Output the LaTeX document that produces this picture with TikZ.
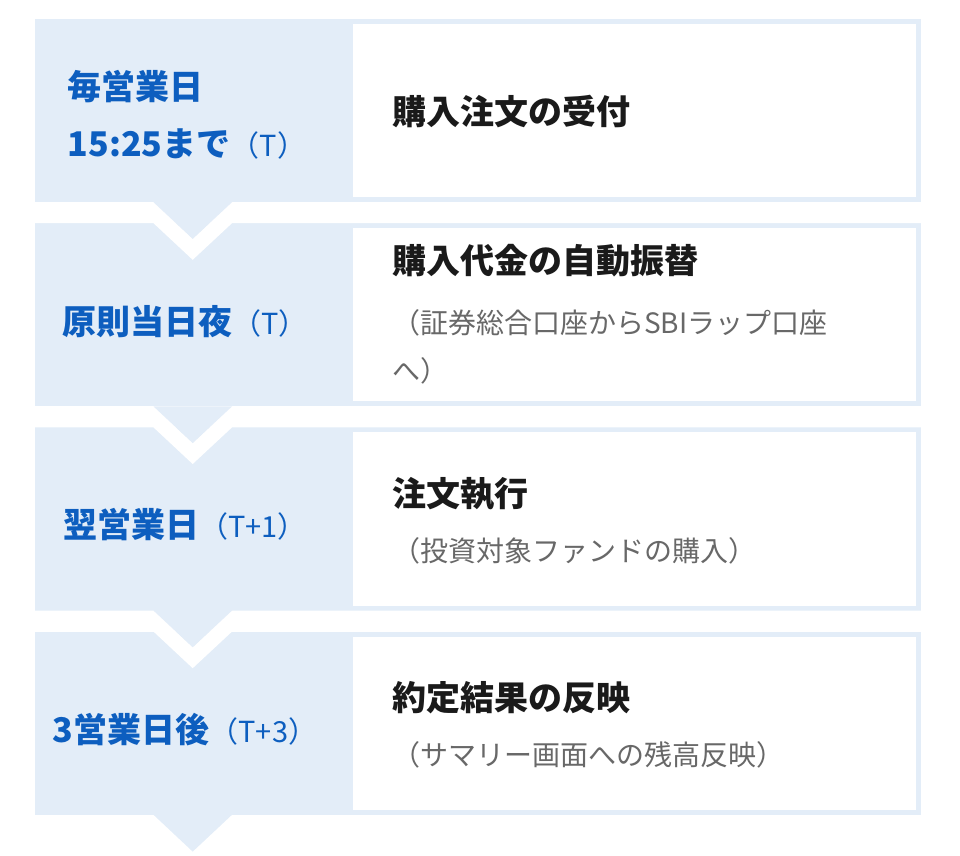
\documentclass[tikz,border=0pt]{standalone}
\usepackage{fontspec}
\setmainfont{Noto Sans CJK JP}
\definecolor{panel}{HTML}{E3EDF8}
\definecolor{bluetext}{HTML}{0D5EBF}
\definecolor{titletext}{HTML}{1A1A1A}
\definecolor{subtext}{HTML}{686868}
\tikzset{
  panelfill/.style={fill=panel},
  lefttext/.style={font=\fontsize{34}{57}\selectfont\bfseries, text=bluetext, align=left, inner sep=0pt, anchor=center},
  titlenode/.style={font=\fontsize{34}{40}\selectfont\bfseries, text=titletext, inner sep=0pt, anchor=base west},
  subnode/.style={font=\fontsize{28}{48}\selectfont, text=subtext, align=left, inner sep=0pt, anchor=base west},
}
\newcommand{\paren}[1]{{\fontsize{29}{29}\selectfont\mdseries #1}}
\begin{document}
\begin{tikzpicture}[x=1pt,y=-1pt]
\useasboundingbox (0,0) rectangle (960,855);
% rows
\foreach \t in {19,223.2,427.4,631.6}{
  \pgfmathsetmacro{\b}{\t+183.2}
  \fill[panelfill] (35,\t) rectangle (921,\b);
  \fill[white] (352.7,\t+5) rectangle (916,\b-5);
}
% white V bands between rows
\foreach \b in {202.2,406.4,610.6}{
  \fill[white] (35,\b) -- (153.5,\b) -- (192.7,\b+36.6) -- (232,\b) -- (921,\b)
     -- (921,\b+21) -- (232,\b+21) -- (192.7,\b+57.6) -- (153.5,\b+21) -- (35,\b+21) -- cycle;
  \fill[panelfill] (153.5,\b) -- (192.7,\b+36.6) -- (232,\b) -- cycle;
}
% last triangle
\fill[panelfill] (153.5,814.8) -- (192.7,851.6) -- (232,814.8) -- cycle;
% left texts
\node[lefttext] (l1) at (187,114.5) {毎営業日\\15:25まで\paren{（T）}};
\node[lefttext] (l2) at (185,322) {原則当日夜\paren{（T）}};
\node[lefttext] (l3) at (185,525) {翌営業日\paren{（T+1）}};
\node[lefttext] (l4) at (185,730) {3営業日後\paren{（T+3）}};
% right titles
\node[titlenode] (t1) at (392,124) {購入注文の受付};
\node[titlenode] (t2) at (392,273) {購入代金の自動振替};
\node[titlenode] (t3) at (392,506) {注文執行};
\node[titlenode] (t4) at (392,710) {約定結果の反映};
% subtitles
\node[subnode] (s2) at (392,381) {（証券総合口座からSBIラップ口座\\へ）};
\node[subnode] (s3) at (392,561) {（投資対象ファンドの購入）};
\node[subnode] (s4) at (392,765) {（サマリー画面への残高反映）};
\end{tikzpicture}
\end{document}
